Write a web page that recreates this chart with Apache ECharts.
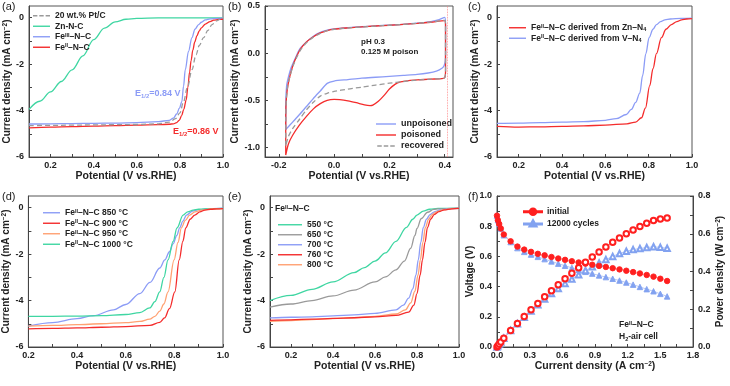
<!DOCTYPE html>
<html><head><meta charset="utf-8">
<script src="https://cdn.jsdelivr.net/npm/echarts/dist/echarts.min.js"></script>
<style>html,body{margin:0;padding:0;background:#fff}#c{width:730px;height:386px}</style>
</head><body><div id="c"></div>
<script>
// ---------- DATA ----------
// (a) LSV
const aPtX = [0.1,0.2,0.3,0.4,0.5,0.6,0.7,0.75,0.78,0.8,0.817,0.835,0.856,0.875,0.89,0.91,0.93,0.949,0.97,0.985,1.0];
const aPtY = [-4.65,-4.64,-4.63,-4.62,-4.61,-4.6,-4.57,-4.5,-4.35,-4.1,-3.62,-3.0,-2.24,-1.6,-1.2,-0.86,-0.55,-0.3,-0.14,-0.08,-0.05];
const aZnX = [0.1,0.15,0.2,0.25,0.3,0.35,0.4,0.45,0.5,0.55,0.6,0.7,0.8,1.0];
const aZnY = [-3.95,-3.6,-3.2,-2.75,-2.25,-1.65,-0.95,-0.45,-0.18,-0.07,-0.03,-0.01,-0.01,-0.01];
const aFe3X = [0.1,0.2,0.3,0.4,0.5,0.6,0.7,0.75,0.77,0.785,0.798,0.809,0.817,0.825,0.84,0.856,0.87,0.887,0.9,0.918,0.94,0.97,1.0];
const aFe3Y = [-4.58,-4.57,-4.56,-4.55,-4.54,-4.52,-4.48,-4.42,-4.33,-4.15,-3.9,-3.62,-2.95,-2.24,-1.45,-0.86,-0.5,-0.3,-0.2,-0.1,-0.05,-0.03,-0.02];
const aFe2X = [0.1,0.2,0.3,0.4,0.5,0.6,0.7,0.75,0.77,0.785,0.797,0.808,0.818,0.829,0.837,0.845,0.852,0.86,0.869,0.879,0.89,0.9,0.918,0.94,0.957,0.98,1.0];
const aFe2Y = [-4.75,-4.71,-4.69,-4.67,-4.65,-4.63,-4.61,-4.59,-4.57,-4.52,-4.42,-4.22,-3.95,-3.55,-3.0,-2.35,-1.85,-1.4,-1.05,-0.78,-0.57,-0.44,-0.28,-0.17,-0.11,-0.08,-0.07];
// (b) CV loops
const bUnX = [-0.175,-0.175,-0.172,-0.165,-0.155,-0.14,-0.123,-0.1,-0.075,-0.05,-0.025,0.0,0.05,0.1,0.15,0.2,0.25,0.3,0.35,0.38,0.4,0.403,0.403,0.402,0.398,0.39,0.37,0.34,0.3,0.25,0.2,0.15,0.1,0.05,0.0,-0.025,-0.05,-0.075,-0.1,-0.125,-0.15,-0.175];
const bUnY = [-0.8,-0.55,-0.35,-0.25,-0.15,-0.05,0.05,0.12,0.18,0.22,0.245,0.258,0.27,0.28,0.29,0.298,0.306,0.318,0.335,0.355,0.38,0.3,0.0,-0.08,-0.13,-0.16,-0.19,-0.21,-0.225,-0.235,-0.245,-0.255,-0.265,-0.28,-0.295,-0.32,-0.4,-0.48,-0.565,-0.65,-0.73,-0.81];
const bPoX = [-0.175,-0.175,-0.174,-0.17,-0.163,-0.15,-0.135,-0.12,-0.1,-0.075,-0.05,-0.025,0.0,0.05,0.1,0.15,0.2,0.25,0.3,0.35,0.4,0.403,0.403,0.403,0.4,0.39,0.35,0.3,0.27,0.24,0.22,0.2,0.18,0.16,0.14,0.13,0.11,0.08,0.05,0.02,0.0,-0.025,-0.05,-0.075,-0.1,-0.125,-0.15,-0.165,-0.175];
const bPoY = [-1.08,-0.8,-0.55,-0.4,-0.28,-0.14,-0.03,0.05,0.12,0.175,0.215,0.24,0.255,0.268,0.278,0.288,0.296,0.305,0.315,0.328,0.345,0.3,0.0,-0.2,-0.26,-0.27,-0.275,-0.283,-0.29,-0.305,-0.33,-0.38,-0.45,-0.51,-0.55,-0.555,-0.548,-0.525,-0.505,-0.492,-0.49,-0.5,-0.535,-0.59,-0.67,-0.76,-0.87,-0.96,-1.08];
const bReX = [-0.175,-0.175,-0.173,-0.168,-0.16,-0.148,-0.133,-0.12,-0.1,-0.075,-0.05,-0.025,0.0,0.05,0.1,0.15,0.2,0.25,0.3,0.35,0.4,0.403,0.403,0.403,0.4,0.39,0.35,0.3,0.25,0.2,0.15,0.1,0.05,0.0,-0.025,-0.05,-0.075,-0.1,-0.125,-0.15,-0.165,-0.175];
const bReY = [-0.98,-0.7,-0.5,-0.35,-0.25,-0.13,-0.03,0.04,0.11,0.17,0.21,0.238,0.253,0.267,0.277,0.287,0.296,0.305,0.316,0.33,0.348,0.3,0.0,-0.2,-0.26,-0.268,-0.275,-0.285,-0.3,-0.318,-0.338,-0.36,-0.38,-0.405,-0.425,-0.455,-0.52,-0.6,-0.7,-0.8,-0.88,-0.98];
const bVertex = [0.405];
// (c)
const cZnX = [0.1,0.2,0.3,0.4,0.5,0.6,0.7,0.74,0.767,0.785,0.805,0.82,0.836,0.859,0.88,0.905,0.93,0.952,0.975,1.0];
const cZnY = [-4.68,-4.71,-4.7,-4.68,-4.66,-4.63,-4.57,-4.5,-4.31,-3.9,-2.93,-2.2,-1.55,-0.86,-0.5,-0.3,-0.17,-0.1,-0.06,-0.04];
const cVX = [0.1,0.2,0.3,0.4,0.5,0.6,0.65,0.697,0.72,0.74,0.759,0.772,0.787,0.802,0.82,0.836,0.855,0.875,0.9,0.95,1.0];
const cVY = [-4.55,-4.54,-4.52,-4.5,-4.48,-4.42,-4.35,-4.17,-3.95,-3.65,-3.25,-2.5,-1.55,-0.86,-0.5,-0.3,-0.17,-0.1,-0.06,-0.03,-0.02];
// (d)
const d850X = [0.2,0.3,0.4,0.467,0.55,0.6,0.658,0.7,0.74,0.761,0.78,0.795,0.81,0.822,0.835,0.85,0.875,0.9,0.95,1.0];
const d850Y = [-5.1,-4.95,-4.78,-4.65,-4.4,-4.17,-3.7,-3.22,-2.6,-2.25,-1.9,-1.56,-1.2,-0.87,-0.58,-0.32,-0.15,-0.09,-0.04,-0.02];
const d900X = [0.2,0.3,0.4,0.5,0.6,0.7,0.74,0.76,0.78,0.802,0.82,0.835,0.847,0.865,0.884,0.905,0.925,0.95,0.975,1.0];
const d900Y = [-5.22,-5.2,-5.18,-5.15,-5.12,-5.07,-4.94,-4.75,-4.35,-3.63,-2.25,-1.45,-0.87,-0.5,-0.32,-0.18,-0.11,-0.07,-0.05,-0.04];
const d950X = [0.2,0.3,0.4,0.5,0.6,0.658,0.699,0.72,0.74,0.757,0.774,0.799,0.815,0.829,0.845,0.863,0.885,0.911,0.95,1.0];
const d950Y = [-5.1,-5.07,-5.04,-5.0,-4.95,-4.9,-4.8,-4.68,-4.46,-4.15,-3.63,-2.25,-1.5,-0.87,-0.55,-0.32,-0.18,-0.11,-0.06,-0.04];
const d1000X = [0.2,0.3,0.4,0.5,0.6,0.658,0.699,0.72,0.74,0.757,0.774,0.795,0.811,0.836,0.855,0.877,0.9,0.95,1.0];
const d1000Y = [-4.68,-4.68,-4.67,-4.65,-4.6,-4.52,-4.32,-4.05,-3.63,-3.0,-2.25,-1.45,-0.87,-0.32,-0.18,-0.11,-0.07,-0.04,-0.03];
// (e)
const e550X = [0.1,0.2,0.3,0.4,0.5,0.55,0.6,0.65,0.7,0.75,0.78,0.8,0.83,0.86,0.9,1.0];
const e550Y = [-4.0,-3.78,-3.52,-3.2,-2.8,-2.58,-2.3,-1.95,-1.45,-0.85,-0.5,-0.32,-0.15,-0.07,-0.03,-0.02];
const e650X = [0.1,0.2,0.3,0.4,0.5,0.6,0.65,0.7,0.74,0.77,0.79,0.8,0.82,0.85,0.88,0.9,1.0];
const e650Y = [-4.28,-4.15,-4.0,-3.8,-3.55,-3.2,-2.98,-2.68,-2.3,-1.75,-1.2,-0.9,-0.48,-0.2,-0.08,-0.05,-0.02];
const e700X = [0.1,0.2,0.3,0.4,0.5,0.6,0.7,0.735,0.76,0.78,0.795,0.806,0.818,0.83,0.845,0.862,0.885,0.91,0.95,1.0];
const e700Y = [-4.75,-4.72,-4.7,-4.66,-4.62,-4.55,-4.4,-4.2,-3.9,-3.5,-2.9,-2.25,-1.5,-0.85,-0.5,-0.3,-0.17,-0.1,-0.05,-0.03];
const e760X = [0.1,0.2,0.3,0.4,0.5,0.6,0.7,0.76,0.785,0.8,0.815,0.826,0.838,0.85,0.865,0.882,0.905,0.93,0.965,1.0];
const e760Y = [-4.85,-4.83,-4.8,-4.77,-4.74,-4.7,-4.64,-4.5,-4.2,-3.7,-2.9,-2.25,-1.5,-0.85,-0.5,-0.3,-0.17,-0.1,-0.05,-0.03];
const e800X = [0.1,0.2,0.3,0.4,0.5,0.6,0.7,0.745,0.77,0.79,0.805,0.816,0.828,0.84,0.855,0.872,0.895,0.92,0.96,1.0];
const e800Y = [-4.9,-4.86,-4.82,-4.78,-4.74,-4.68,-4.58,-4.4,-4.1,-3.6,-2.9,-2.25,-1.5,-0.85,-0.5,-0.3,-0.17,-0.1,-0.05,-0.03];
// (f) fuel cell polarization
const fI = [0,0.008,0.02,0.035,0.0625,0.125,0.1875,0.25,0.3125,0.375,0.4375,0.5,0.5625,0.625,0.6875,0.75,0.8125,0.875,0.9375,1.0,1.0625,1.125,1.1875,1.25,1.3125,1.375,1.4375,1.5,1.5625];
const fVinit = [0.87,0.84,0.815,0.785,0.745,0.70,0.665,0.645,0.63,0.617,0.607,0.596,0.586,0.577,0.568,0.56,0.552,0.545,0.537,0.53,0.522,0.514,0.505,0.496,0.487,0.477,0.466,0.452,0.437];
const fPinit = [0,0.007,0.016,0.027,0.047,0.088,0.125,0.161,0.197,0.231,0.266,0.298,0.33,0.361,0.391,0.42,0.449,0.477,0.503,0.53,0.555,0.578,0.6,0.62,0.639,0.656,0.67,0.678,0.683];
const fVcyc = [0.87,0.84,0.815,0.785,0.74,0.695,0.655,0.63,0.612,0.597,0.582,0.567,0.552,0.538,0.524,0.511,0.498,0.486,0.474,0.463,0.452,0.44,0.427,0.413,0.398,0.383,0.369,0.352,0.335];
const fPcyc = [0,0.007,0.016,0.027,0.046,0.087,0.123,0.158,0.191,0.224,0.254,0.283,0.31,0.336,0.36,0.383,0.405,0.425,0.445,0.463,0.48,0.495,0.507,0.516,0.522,0.527,0.531,0.528,0.523];
// ticks / labels
const lsvXLabels = [0.2,0.4,0.6,0.8,1.0];
const lsvXTicks = [0.1,0.2,0.3,0.4,0.5,0.6,0.7,0.8,0.9,1.0];
const lsvYLabels = [-6,-4,-2,0];
const lsvYTicks = [-6,-5,-4,-3,-2,-1,0];
const cvXLabels = [-0.2,0.0,0.2,0.4];
const cvXTicks = [-0.2,-0.1,0.0,0.1,0.2,0.3,0.4];
const cvYLabels = [-1.0,-0.5,0.0,0.5];
const cvYTicks = [-1.0,-0.75,-0.5,-0.25,0.0,0.25,0.5];
const fXLabels = [0.0,0.3,0.6,0.9,1.2,1.5,1.8];
const fXTicks = [0,0.15,0.3,0.45,0.6,0.75,0.9,1.05,1.2,1.35,1.5,1.65,1.8];
const fVLabels = [0.0,0.2,0.4,0.6,0.8,1.0];
const fVTicks = [0,0.1,0.2,0.3,0.4,0.5,0.6,0.7,0.8,0.9,1.0];
const fPLabels = [0.0,0.2,0.4,0.6,0.8];
const fPTicks = [0,0.1,0.2,0.3,0.4,0.5,0.6,0.7,0.8];

// ---------- STYLE ----------
const FONT = 'Liberation Sans, Arial, Helvetica, sans-serif';
const RED = '#f42c2c', BLUE = '#8c9cf6', GREEN = '#3fd6a2', GRAY = '#9a9a9a', ORANGE = '#ffa172';
const RICH = {
  sup: {fontSize: 5.5, fontWeight: 'bold', fontFamily: FONT, verticalAlign: 'top', padding: [0,0,3,0]},
  sub: {fontSize: 5.5, fontWeight: 'bold', fontFamily: FONT, verticalAlign: 'bottom', padding: [3,0,0,0]}
};
function richC(color, size){
  return {
    sup: {fontSize: size*0.65, fontWeight:'bold', fontFamily:FONT, fill: color, color: color, verticalAlign:'top', padding:[0,0,4,0]},
    sub: {fontSize: size*0.65, fontWeight:'bold', fontFamily:FONT, fill: color, color: color, verticalAlign:'bottom', padding:[4,0,0,0]}
  };
}
const pairs = (xs, ys) => xs.map((x, i) => [x, ys[i]]);
const fmt = d => v => (Math.abs(v) < 1e-9 ? 0 : v).toFixed(d);

const H = 151;
const grids = [
  {left: 29, top: 6, width: 194, height: H},
  {left: 265, top: 6, width: 188, height: H},
  {left: 497, top: 6, width: 195, height: H},
  {left: 28, top: 196, width: 195, height: H},
  {left: 270, top: 196, width: 189, height: H},
  {left: 497, top: 196, width: 196, height: H}
].map(g => Object.assign({show: true, borderColor: '#555', borderWidth: 1, backgroundColor: 'transparent'}, g));

function axis(kind, gi, min, max, labels, ticks, dec, name, gap, extra){
  const a = {
    type: 'value', gridIndex: gi, min: min, max: max,
    axisLine: {show: true, onZero: false, lineStyle: {color: '#444', width: 1}},
    axisTick: {show: true, inside: true, length: 3, customValues: ticks, lineStyle: {color: '#444', width: 1}},
    axisLabel: {customValues: labels, formatter: fmt(dec), fontSize: 9, fontWeight: 'bold', color: '#222', fontFamily: FONT, margin: kind === 'x' ? 4 : 5},
    splitLine: {show: false},
    name: name, nameLocation: 'middle', nameGap: gap,
    nameTextStyle: {fontSize: kind === 'x' ? 10.5 : 10, fontWeight: 'bold', color: '#222', fontFamily: FONT,
      rich: {sup: {fontSize: 6.5, fontWeight: 'bold', fontFamily: FONT, color: '#222', verticalAlign: 'top', padding: [0,0,4,0]}}}
  };
  return Object.assign(a, extra || {});
}
const YNAME = 'Current density (mA cm{sup|−2})';
const XNAME = 'Potential (V vs.RHE)';

const xAxis = [
  axis('x', 0, 0.1, 1.0, lsvXLabels, lsvXTicks, 1, XNAME, 14),
  axis('x', 1, -0.25, 0.43, cvXLabels, cvXTicks, 1, XNAME, 14),
  axis('x', 2, 0.1, 1.0, lsvXLabels, lsvXTicks, 1, XNAME, 14),
  axis('x', 3, 0.2, 1.0, lsvXLabels, lsvXTicks, 1, XNAME, 14),
  axis('x', 4, 0.1, 1.0, lsvXLabels, lsvXTicks, 1, XNAME, 14),
  axis('x', 5, 0, 1.8, fXLabels, fXTicks, 1, 'Current density (A cm{sup|−2})', 14)
];
const yAxis = [
  axis('y', 0, -6, 0.5, lsvYLabels, lsvYTicks, 0, YNAME, 14),
  axis('y', 1, -1.1, 0.5, cvYLabels, cvYTicks, 1, YNAME, 19),
  axis('y', 2, -6, 0.5, lsvYLabels, lsvYTicks, 0, YNAME, 13),
  axis('y', 3, -6, 0.5, lsvYLabels, lsvYTicks, 0, YNAME, 14),
  axis('y', 4, -6, 0.5, lsvYLabels, lsvYTicks, 0, YNAME, 16),
  axis('y', 5, 0, 1.0, fVLabels, fVTicks, 1, 'Voltage (V)', 17, {position: 'left'}),
  axis('y', 5, 0, 0.8, fPLabels, fPTicks, 1, 'Power density (W cm{sup|−2})', 19, {position: 'right'})
];

function lsv(name, gi, xs, ys, color, dashed){
  return {type: 'line', name: name, xAxisIndex: gi, yAxisIndex: gi, data: pairs(xs, ys),
    symbol: 'none', showSymbol: false, smooth: 0.35, smoothMonotone: 'x', silent: true,
    lineStyle: {color: color, width: 1.3, type: dashed ? [5, 3] : 'solid'}, itemStyle: {color: color}};
}
function cv(name, xs, ys, color, dashed, extra){
  return Object.assign({type: 'line', name: name, xAxisIndex: 1, yAxisIndex: 1, data: pairs(xs, ys),
    symbol: 'none', showSymbol: false, smooth: 0.25, silent: true,
    lineStyle: {color: color, width: 1.3, type: dashed ? [5, 3] : 'solid'}, itemStyle: {color: color}}, extra || {});
}
function fc(name, ys, yi, symbol, color, lineColor){
  return {type: 'line', name: name, xAxisIndex: 5, yAxisIndex: yi, data: pairs(fI, ys),
    symbol: symbol, symbolSize: 5.5, showSymbol: true, silent: true,
    lineStyle: {color: lineColor, width: 1}, itemStyle: {color: color, borderColor: color, borderWidth: 0.9}};
}

const series = [
  lsv('Zn-N-C', 0, aZnX, aZnY, GREEN),
  lsv('FeIII–N–C', 0, aFe3X, aFe3Y, BLUE),
  lsv('FeII–N–C', 0, aFe2X, aFe2Y, RED),
  lsv('20 wt.% Pt/C', 0, aPtX, aPtY, GRAY, true),
  cv('unpoisoned', bUnX, bUnY, BLUE),
  cv('poisoned', bPoX, bPoY, RED, false, {markLine: {silent: true, symbol: ['none', 'none'], label: {show: false},
     lineStyle: {color: '#ff8080', type: 'dotted', width: 0.8}, data: bVertex.map(v => ({xAxis: v}))}}),
  cv('recovered', bReX, bReY, GRAY, true),
  lsv('FeII–N–C derived from V–N4', 2, cVX, cVY, BLUE),
  lsv('FeII–N–C derived from Zn–N4', 2, cZnX, cZnY, RED),
  lsv('FeII–N–C 850 °C', 3, d850X, d850Y, BLUE),
  lsv('FeII–N–C 1000 °C', 3, d1000X, d1000Y, GREEN),
  lsv('FeII–N–C 950 °C', 3, d950X, d950Y, ORANGE),
  lsv('FeII–N–C 900 °C', 3, d900X, d900Y, RED),
  lsv('550 °C', 4, e550X, e550Y, GREEN),
  lsv('650 °C', 4, e650X, e650Y, GRAY),
  lsv('700 °C', 4, e700X, e700Y, BLUE),
  lsv('800 °C', 4, e800X, e800Y, ORANGE),
  lsv('760 °C', 4, e760X, e760Y, RED),
  fc('12000 cycles', fVcyc, 5, 'triangle', '#82a2f0', '#b8c9f6'),
  fc('12000 cycles P', fPcyc, 6, 'emptyTriangle', '#82a2f0', '#b8c9f6'),
  fc('initial', fVinit, 5, 'circle', '#ff1f1f', '#ffa0a0'),
  fc('initial P', fPinit, 6, 'emptyCircle', '#ff1f1f', '#ffa0a0')
];

const richNames = {
  'FeIII–N–C': 'Fe{sup|III}–N–C',
  'FeII–N–C': 'Fe{sup|II}–N–C',
  'FeII–N–C derived from Zn–N4': 'Fe{sup|II}–N–C derived from Zn–N{sub|4}',
  'FeII–N–C derived from V–N4': 'Fe{sup|II}–N–C derived from V–N{sub|4}',
  'FeII–N–C 850 °C': 'Fe{sup|II}–N–C 850 °C',
  'FeII–N–C 900 °C': 'Fe{sup|II}–N–C 900 °C',
  'FeII–N–C 950 °C': 'Fe{sup|II}–N–C 950 °C',
  'FeII–N–C 1000 °C': 'Fe{sup|II}–N–C 1000 °C'
};
const DASH_ICON = 'path://M0,0H4.5V1.4H0Z M6.5,0H11V1.4H6.5Z M13,0H17.5V1.4H13Z';
const CIRCLE_ICON = 'path://M0,3.1H18V4.1H0Z M12.3,3.6A3.3,3.3,0,1,1,5.7,3.6A3.3,3.3,0,1,1,12.3,3.6Z';
const TRI_ICON = 'path://M0,3.8H18V4.8H0Z M9,0.4L12.6,6.8L5.4,6.8Z';
const item = (name, icon) => ({name: name, icon: icon || 'rect'});
function legend(left, top, data, extra){
  return Object.assign({left: left, top: top, orient: 'vertical', itemWidth: 17, itemHeight: 1.4, itemGap: 1,
    selectedMode: false, data: data, formatter: n => richNames[n] || n,
    textStyle: {fontSize: 8.5, fontWeight: 'bold', color: '#222', fontFamily: FONT, lineHeight: 9.5, rich: RICH}}, extra || {});
}
const legends = [
  legend(28, 6, [item('20 wt.% Pt/C', DASH_ICON), item('Zn-N-C'), item('FeIII–N–C'), item('FeII–N–C')]),
  legend(371, 114, [item('unpoisoned'), item('poisoned'), item('recovered', DASH_ICON)],
    {itemWidth: 20, textStyle: {fontSize: 9, fontWeight: 'bold', color: '#222', fontFamily: FONT, lineHeight: 10}}),
  legend(504, 18, [item('FeII–N–C derived from Zn–N4'), item('FeII–N–C derived from V–N4')]),
  legend(38, 203, [item('FeII–N–C 850 °C'), item('FeII–N–C 900 °C'), item('FeII–N–C 950 °C'), item('FeII–N–C 1000 °C')]),
  legend(273, 215, [item('550 °C'), item('650 °C'), item('700 °C'), item('760 °C'), item('800 °C')], {itemWidth: 24, itemGap: 0.5}),
  legend(518, 202, [item('initial', CIRCLE_ICON), item('12000 cycles', TRI_ICON)], {itemWidth: 18, itemHeight: 7, itemGap: 2})
];

function txt(x, y, text, size, color, bold, extra){
  return Object.assign({type: 'text', x: x, y: y, z: 100, silent: true,
    style: {text: text, fontSize: size, fontWeight: bold ? 'bold' : 'normal', fontFamily: FONT, fill: color,
      verticalAlign: 'middle', align: 'left', rich: richC(color, size)}}, extra || {});
}
const graphic = [
  txt(2, 7, '(a)', 11, '#222', false),
  txt(228, 7, '(b)', 11, '#222', false),
  txt(468, 7, '(c)', 11, '#222', false),
  txt(2, 197, '(d)', 11, '#222', false),
  txt(228, 197, '(e)', 11, '#222', false),
  txt(468, 197, '(f)', 11, '#222', false),
  txt(135, 94, 'E{sub|1/2}=0.84 V', 9, BLUE, true),
  txt(173, 132, 'E{sub|1/2}=0.86 V', 9, RED, true),
  txt(361, 42, 'pH 0.3', 8, '#222', true),
  txt(361, 52, '0.125 M poison', 8, '#222', true),
  txt(275, 209, 'Fe{sup|II}–N–C', 8.5, '#222', true),
  txt(619, 325, 'Fe{sup|II}–N–C', 8.5, '#222', true),
  txt(619, 337, 'H{sub|2}-air cell', 8.5, '#222', true)
];

const chart = echarts.init(document.getElementById('c'), null, {renderer: 'canvas'});
chart.setOption({
  animation: false,
  backgroundColor: '#fff',
  textStyle: {fontFamily: FONT},
  grid: grids, xAxis: xAxis, yAxis: yAxis, series: series, legend: legends, graphic: graphic
});
</script></body></html>
